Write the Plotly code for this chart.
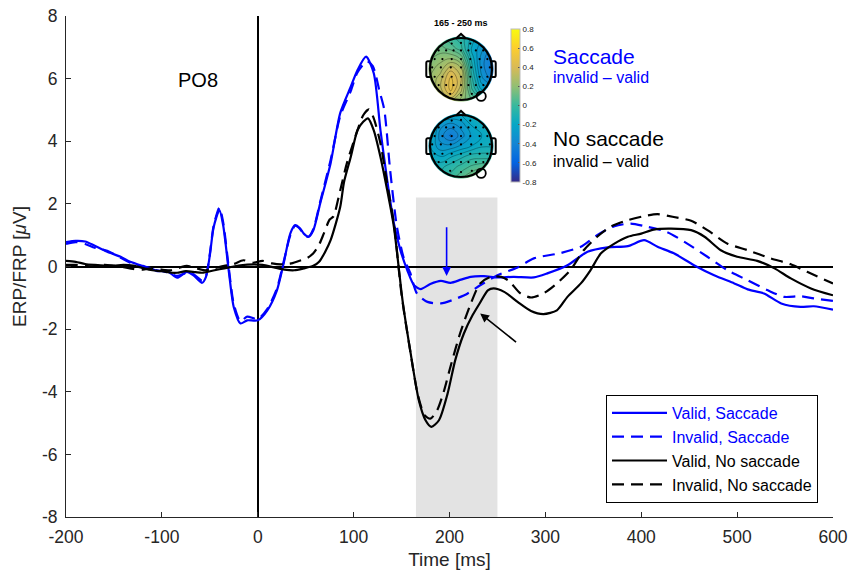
import numpy as np
import plotly.graph_objects as go

# ---------------- data ----------------
vs_t = [-200, -190, -180, -170, -157, -143, -133, -120, -112, -105, -95, -84, -74, -67, -58, -54, -50, -46, -40, -36, -30, -25, -18, -11, 0, 10, 20, 27, 34, 39, 44, 48, 53, 58, 65, 76, 86, 97, 104, 113, 121, 128, 135, 142, 149, 156, 163, 170, 180, 191, 201, 212, 222, 236, 250, 267, 288, 302, 323, 344, 365, 386, 403, 417, 434, 455, 476, 497, 511, 528, 546, 566, 580, 600]
vs_v = [0.78, 0.82, 0.80, 0.66, 0.47, 0.31, 0.15, 0.02, -0.05, -0.15, -0.13, -0.36, -0.17, -0.28, -0.52, -0.33, 0.35, 1.25, 1.80, 1.30, -0.20, -1.30, -1.82, -1.72, -1.72, -1.40, -0.76, 0.10, 1.06, 1.32, 1.22, 1.05, 0.95, 1.16, 2.00, 3.30, 4.90, 5.74, 6.27, 6.70, 6.17, 4.35, 2.76, 1.38, 0.50, -0.12, -0.60, -0.72, -0.56, -0.46, -0.52, -0.42, -0.33, -0.31, -0.35, -0.33, -0.35, -0.22, 0.04, 0.47, 0.61, 0.65, 0.84, 0.63, 0.42, 0.04, -0.28, -0.54, -0.73, -0.86, -1.18, -1.29, -1.27, -1.38]

is_t = [-200, -190, -180, -170, -157, -143, -133, -120, -112, -105, -95, -84, -74, -67, -58, -54, -50, -46, -40, -36, -30, -25, -18, -11, 0, 10, 20, 27, 34, 39, 44, 48, 53, 58, 65, 76, 86, 97, 104, 114, 120, 127, 132, 138, 145, 152, 159, 166, 177, 191, 205, 219, 232, 250, 271, 288, 316, 337, 354, 372, 389, 406, 427, 448, 469, 490, 511, 532, 549, 566, 580, 600]
is_v = [0.72, 0.78, 0.72, 0.60, 0.50, 0.28, 0.12, 0.00, -0.10, -0.12, -0.18, -0.30, -0.20, -0.25, -0.45, -0.30, 0.40, 1.30, 1.88, 1.40, -0.10, -1.20, -1.75, -1.60, -1.68, -1.35, -0.70, 0.15, 1.00, 1.30, 1.20, 1.02, 0.95, 1.20, 2.05, 3.40, 4.80, 5.60, 6.20, 6.55, 6.40, 5.60, 5.00, 3.10, 1.30, 0.30, -0.20, -0.86, -1.13, -1.18, -1.05, -0.86, -0.60, -0.28, -0.03, 0.26, 0.43, 0.63, 1.00, 1.29, 1.37, 1.27, 1.10, 0.73, 0.31, -0.12, -0.44, -0.76, -0.97, -0.95, -1.02, -1.10]

vn_t = [-200, -190, -180, -170, -160, -150, -140, -130, -120, -110, -100, -90, -84, -75, -65, -58, -45, -35, -18, -4, 5, 17, 28, 38, 48, 58, 64, 70, 76, 86, 90, 97, 104, 110, 115, 121, 128, 135, 142, 151, 159, 168, 175, 181, 189, 198, 206, 215, 224, 232, 240, 246, 257, 271, 285, 298, 312, 323, 337, 347, 358, 372, 386, 400, 413, 431, 452, 466, 483, 500, 521, 539, 556, 577, 600]
vn_v = [0.18, 0.15, 0.08, 0.05, 0.03, 0.03, 0.05, 0.03, -0.05, -0.12, -0.15, -0.20, -0.20, -0.15, -0.18, -0.20, -0.12, -0.06, 0.04, 0.07, 0.05, -0.03, -0.10, -0.12, -0.06, 0.02, 0.15, 0.45, 0.84, 1.90, 2.70, 3.50, 4.35, 4.62, 4.73, 4.35, 3.50, 2.44, 1.27, -1.08, -2.68, -4.27, -4.91, -5.12, -4.91, -4.06, -2.99, -2.14, -1.56, -1.15, -0.76, -0.70, -0.81, -1.13, -1.42, -1.52, -1.40, -0.97, -0.54, -0.12, 0.42, 0.73, 0.95, 1.05, 1.18, 1.21, 1.16, 0.95, 0.52, 0.31, 0.18, -0.06, -0.38, -0.70, -0.92]

in_t = [-200, -190, -180, -170, -160, -150, -140, -130, -120, -110, -100, -90, -80, -74, -65, -55, -45, -35, -25, -15, -5, 5, 15, 24, 35, 45, 52, 58, 64, 69, 75, 79, 85, 93, 104, 110, 116, 121, 128, 135, 142, 150, 158, 167, 174, 180, 187, 194, 201, 211, 222, 232, 243, 254, 262, 274, 285, 298, 312, 326, 340, 354, 368, 386, 403, 417, 434, 452, 469, 490, 511, 535, 556, 573, 600]
in_v = [0.05, 0.05, 0.02, 0.00, 0.05, 0.02, -0.02, -0.08, -0.10, -0.05, -0.10, -0.12, -0.02, 0.02, -0.05, -0.12, -0.05, 0.02, 0.08, 0.20, 0.12, 0.18, 0.10, 0.07, 0.10, 0.20, 0.28, 0.42, 0.70, 1.06, 1.50, 1.60, 2.30, 3.30, 4.35, 4.83, 5.02, 4.73, 3.93, 2.65, 1.38, -0.90, -2.50, -4.10, -4.75, -4.86, -4.60, -4.00, -3.20, -2.14, -1.20, -0.54, -0.33, -0.33, -0.46, -0.86, -0.99, -0.86, -0.54, -0.12, 0.52, 0.95, 1.27, 1.48, 1.61, 1.67, 1.58, 1.46, 1.16, 0.73, 0.52, 0.26, 0.07, -0.17, -0.54]

series_names = ["Valid, Saccade", "Invalid, Saccade", "Valid, No saccade", "Invalid, No saccade"]

x_ticks = [-200, -100, 0, 100, 200, 300, 400, 500, 600]
x_ticktext = ["-200", "-100", "0", "100", "200", "300", "400", "500", "600"]
y_ticks = [-8, -6, -4, -2, 0, 2, 4, 6, 8]
y_ticktext = ["-8", "-6", "-4", "-2", "0", "2", "4", "6", "8"]

win_start, win_end = 165, 250
win_top = 2.2

# topography grids (rows: front -> back, cols: left -> right)
topo_grid = [-1, -2/3, -1/3, 0, 1/3, 2/3, 1]
topo_sacc = [
    [0.05, 0.05, 0.00, -0.05, -0.15, -0.25, -0.35],
    [0.10, 0.12, 0.08, 0.00, -0.20, -0.30, -0.40],
    [0.15, 0.20, 0.22, 0.15, -0.15, -0.35, -0.45],
    [0.20, 0.25, 0.38, 0.30, -0.10, -0.35, -0.45],
    [0.22, 0.32, 0.48, 0.35, -0.05, -0.30, -0.40],
    [0.20, 0.32, 0.48, 0.30, 0.00, -0.20, -0.25],
    [0.20, 0.25, 0.30, 0.20, 0.10, 0.00, -0.05],
]
topo_nosacc = [
    [-0.05, -0.15, -0.20, -0.20, -0.15, -0.10, -0.10],
    [-0.10, -0.30, -0.35, -0.30, -0.20, -0.15, -0.10],
    [-0.15, -0.35, -0.45, -0.35, -0.25, -0.20, -0.15],
    [-0.20, -0.30, -0.30, -0.25, -0.20, -0.15, -0.15],
    [-0.15, -0.20, -0.15, -0.10, -0.05, -0.05, -0.05],
    [-0.10, -0.10, -0.05, 0.00, 0.05, 0.08, 0.08],
    [-0.05, -0.05, 0.00, 0.08, 0.15, 0.18, 0.12],
]
# electrode positions (unit head coordinates)
elec_x = [-0.3, 0, 0.3,
          -0.72, -0.48, -0.24, 0, 0.24, 0.48, 0.72,
          -0.85, -0.6, -0.3, 0, 0.3, 0.6, 0.85,
          -0.93, -0.65, -0.33, 0, 0.33, 0.65, 0.93,
          -0.85, -0.6, -0.3, 0, 0.3, 0.6, 0.85,
          -0.72, -0.48, -0.24, 0, 0.24, 0.48, 0.72,
          -0.35, 0, 0.35]
elec_y = [0.82, 0.84, 0.82,
          0.6, 0.6, 0.6, 0.6, 0.6, 0.6, 0.6,
          0.32, 0.32, 0.32, 0.32, 0.32, 0.32, 0.32,
          0.05, 0.05, 0.05, 0.05, 0.05, 0.05, 0.05,
          -0.25, -0.25, -0.25, -0.25, -0.25, -0.25, -0.25,
          -0.52, -0.52, -0.52, -0.52, -0.52, -0.52, -0.52,
          -0.8, -0.84, -0.8]

parula = [
    [0.0, "#352A87"], [0.125, "#0363E1"], [0.25, "#1485D4"], [0.375, "#06A7C6"],
    [0.5, "#38B99E"], [0.625, "#92BF73"], [0.75, "#D9BA56"], [0.875, "#FCCE2E"], [1.0, "#F9FB0E"],
]

# ---------------- layout geometry ----------------
W, H = 848, 576
PL, PR, PT, PB = 66, 833, 16, 517
pw, ph = PR - PL, PB - PT

def px2paper_x(px):
    return (px - PL) / pw

def px2paper_y(py):
    return (PB - py) / ph

BLUE = "#0000FF"
FONT = "Liberation Sans, Arial, Helvetica, sans-serif"

fig = go.Figure()

styles = [
    (vs_t, vs_v, BLUE, "solid"),
    (is_t, is_v, BLUE, "12px,7px"),
    (vn_t, vn_v, "black", "solid"),
    (in_t, in_v, "black", "12px,7px"),
]
for name, (t, v, col, dash) in zip(series_names, styles):
    fig.add_trace(go.Scatter(
        x=t, y=v, mode="lines",
        line=dict(color=col, width=2.2, dash=dash, shape="spline", smoothing=0.7),
        name=f'<span style="color:{col}">{name}</span>',
        xaxis="x", yaxis="y",
    ))

# ---------------- topoplots ----------------
head_r_px = 31
half_range = 1.25
box_px = 2 * half_range * head_r_px
heads = [(461, 69, topo_sacc, "x2", "y2", True), (461, 146, topo_nosacc, "x3", "y3", False)]

shapes = []
for cx, cy, z, xa, ya, showscale in heads:
    xdom = [px2paper_x(cx - box_px / 2), px2paper_x(cx + box_px / 2)]
    ydom = [px2paper_y(cy + box_px / 2), px2paper_y(cy - box_px / 2)]
    axname = "xaxis" + xa[1:]
    ayname = "yaxis" + ya[1:]
    fig.update_layout(**{
        axname: dict(domain=xdom, range=[-half_range, half_range], visible=False, fixedrange=True,
                     anchor=ya, automargin=False),
        ayname: dict(domain=ydom, range=[-half_range, half_range], visible=False, fixedrange=True,
                     anchor=xa, automargin=False),
    })
    zz = z[::-1]  # rows back -> front so y increases upward
    hm = go.Heatmap(
        x=topo_grid, y=topo_grid, z=zz, zsmooth="best", colorscale=parula, zmin=-0.8, zmax=0.8,
        showscale=showscale, xaxis=xa, yaxis=ya, hoverinfo="skip",
    )
    if showscale:
        hm.colorbar = dict(
            x=px2paper_x(510.5), xanchor="left", xref="paper",
            y=px2paper_y(105.5), yanchor="middle", yref="paper",
            lenmode="pixels", len=153, thickness=9, xpad=0, ypad=0,
            outlinewidth=1, outlinecolor="#bbbbbb",
            tickvals=[-0.8, -0.6, -0.4, -0.2, 0, 0.2, 0.4, 0.6, 0.8],
            ticktext=["-0.8", "-0.6", "-0.4", "-0.2", "0", "0.2", "0.4", "0.6", "0.8"],
            ticks="inside", ticklen=2, tickcolor="#555555",
            tickfont=dict(size=8, color="#222222", family=FONT),
        )
    fig.add_trace(hm)
    fig.add_trace(go.Contour(
        x=topo_grid, y=topo_grid, z=zz, contours=dict(coloring="none", start=-0.8, end=0.8, size=0.06),
        line=dict(color="rgba(0,0,0,0.6)", width=0.5, smoothing=1.3), showscale=False,
        xaxis=xa, yaxis=ya, hoverinfo="skip", showlegend=False,
    ))
    fig.add_trace(go.Scatter(
        x=elec_x, y=elec_y, mode="markers", marker=dict(color="black", size=2.2),
        xaxis=xa, yaxis=ya, hoverinfo="skip", showlegend=False,
    ))
    # white mask outside the head
    ang = np.linspace(0, 2 * np.pi, 97)
    rr = 1.05
    m = half_range + 0.05
    path = f"M{-m},{-m} L{-m},{m} L{m},{m} L{m},{-m} Z "
    pts = [f"{rr*np.cos(a):.4f},{rr*np.sin(a):.4f}" for a in ang]
    path += "M" + " L".join(pts) + " Z"
    shapes.append(dict(type="path", path=path, xref=xa, yref=ya, fillcolor="white",
                       line=dict(width=0), layer="above"))
    # head outline
    shapes.append(dict(type="circle", xref=xa, yref=ya, x0=-1, y0=-1, x1=1, y1=1,
                       line=dict(color="black", width=2.2), layer="above"))
    # nose
    shapes.append(dict(type="path", xref=xa, yref=ya, path="M-0.16,0.985 L0,1.13 L0.16,0.985",
                       line=dict(color="black", width=2), layer="above"))
    # ears
    shapes.append(dict(type="path", xref=xa, yref=ya,
                       path="M-0.99,0.25 L-1.08,0.25 Q-1.12,0.25 -1.12,0.2 L-1.12,-0.2 Q-1.12,-0.26 -1.06,-0.26 L-0.99,-0.26",
                       line=dict(color="black", width=2), layer="above"))
    shapes.append(dict(type="path", xref=xa, yref=ya,
                       path="M0.99,0.25 L1.08,0.25 Q1.12,0.25 1.12,0.2 L1.12,-0.2 Q1.12,-0.26 1.06,-0.26 L0.99,-0.26",
                       line=dict(color="black", width=2), layer="above"))
    # PO8 electrode marker
    shapes.append(dict(type="circle", xref=xa, yref=ya, x0=0.50, y0=-1.03, x1=0.80, y1=-0.73,
                       line=dict(color="black", width=1.8), layer="above"))

# analysis window
shapes.insert(0, dict(type="rect", xref="x", yref="y", x0=win_start, x1=win_end, y0=-8, y1=win_top,
                      fillcolor="#e3e3e3", line=dict(width=0), layer="below"))

def paper_text(px, py, text, size, color, xanchor="center", bold=False):
    return dict(x=px2paper_x(px), y=px2paper_y(py), xref="paper", yref="paper",
                text=f"<b>{text}</b>" if bold else text, showarrow=False,
                xanchor=xanchor, yanchor="middle",
                font=dict(size=size, color=color, family=FONT))

annotations = [
    dict(x=-62, y=5.95, xref="x", yref="y", text="PO8", showarrow=False,
         xanchor="center", yanchor="middle",
         font=dict(size=20, color="black", family=FONT)),
    dict(x=197, y=-0.3, ax=197, ay=1.3, xref="x", yref="y", axref="x", ayref="y", text="",
         showarrow=True, arrowhead=2, arrowsize=1.1, arrowwidth=1.6, arrowcolor=BLUE),
    dict(x=232, y=-1.5, ax=271, ay=-2.45, xref="x", yref="y", axref="x", ayref="y", text="",
         showarrow=True, arrowhead=2, arrowsize=1.1, arrowwidth=1.6, arrowcolor="black"),
    paper_text(461, 23, "165 - 250 ms", 9, "black", bold=True),
    paper_text(551, 56, "Saccade", 21, BLUE, xanchor="left"),
    paper_text(551, 77, "invalid – valid", 16, BLUE, xanchor="left"),
    paper_text(551, 138, "No saccade", 21, "black", xanchor="left"),
    paper_text(551, 161, "invalid – valid", 16, "black", xanchor="left"),
]

axis_col = "#262626"
fig.update_layout(
    width=W, height=H,
    margin=dict(l=PL, r=W - PR, t=PT, b=H - PB, autoexpand=False),
    paper_bgcolor="white", plot_bgcolor="white",
    font=dict(family=FONT, size=17, color="#222222"),
    xaxis=dict(domain=[0, 1], range=[-200, 600], tickvals=x_ticks, ticktext=x_ticktext,
               ticks="inside", ticklen=5, tickcolor=axis_col, showline=True, linecolor=axis_col,
               linewidth=1, showgrid=False, zeroline=True, zerolinecolor="black", zerolinewidth=1.5,
               tickfont=dict(size=17.5, color="#262626"), ticklabelstandoff=4, automargin=False,
               title=dict(text="Time [ms]", font=dict(size=19, color="#262626"), standoff=6),
               anchor="y"),
    yaxis=dict(domain=[0, 1], range=[-8, 8], tickvals=y_ticks, ticktext=y_ticktext,
               ticks="inside", ticklen=5, tickcolor=axis_col, showline=True, linecolor=axis_col,
               linewidth=1, showgrid=False, zeroline=True, zerolinecolor="black", zerolinewidth=1.5,
               tickfont=dict(size=17.5, color="#262626"), ticklabelstandoff=4, automargin=False,
               title=dict(text="ERP/FRP [<i>μ</i>V]", font=dict(size=19, color="#262626"), standoff=10),
               anchor="x"),
    legend=dict(x=px2paper_x(818), xanchor="right", y=px2paper_y(503), yanchor="bottom",
                bordercolor="black", borderwidth=1, bgcolor="white",
                font=dict(size=16, family=FONT), itemwidth=55, tracegroupgap=0),
    shapes=shapes,
    annotations=annotations,
    showlegend=True,
)

fig.write_html("out.html", config={"displayModeBar": False},
               post_script="document.body.style.margin='0';document.body.style.overflow='hidden';")
